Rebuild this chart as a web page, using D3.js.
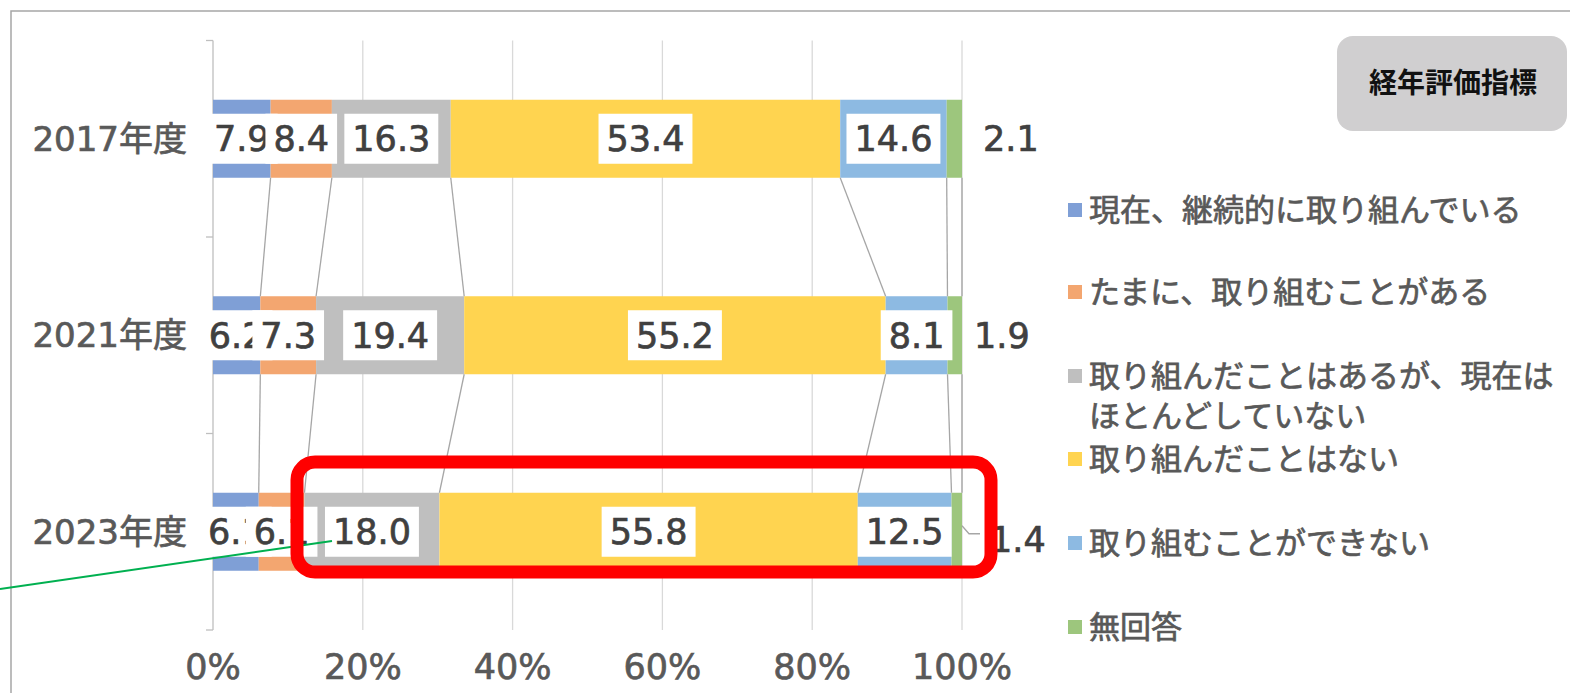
<!doctype html>
<html>
<head>
<meta charset="utf-8">
<script src="https://cdn.jsdelivr.net/npm/d3@7"></script>
<style>
  body { margin: 0; background: #fff; }
  svg text { font-family: "DejaVu Sans", "Noto Sans CJK JP", sans-serif; }
  .cjk { font-family: "Noto Sans CJK JP", sans-serif; }
  .med { stroke-width: 0.7px; }
</style>
</head>
<body>
<svg width="1570" height="693"></svg>
<script>
// data (percent, rows do not sum exactly to 100)
var years = ["2017年度", "2021年度", "2023年度"];
var seriesNames = ["現在、継続的に取り組んでいる", "たまに、取り組むことがある",
  "取り組んだことはあるが、現在は\nほとんどしていない", "取り組んだことはない",
  "取り組むことができない", "無回答"];
var continuing = [7.9, 6.2, 6.1];
var sometimes  = [8.4, 7.3, 6.1];
var stopped    = [16.3, 19.4, 18.0];
var never      = [53.4, 55.2, 55.8];
var cannot     = [14.6, 8.1, 12.5];
var noAnswer   = [2.1, 1.9, 1.4];
var xTicks = [0, 0.2, 0.4, 0.6, 0.8, 1];

var colors = ["#7f9fd6", "#f3a670", "#bfbfbf", "#ffd450", "#8dbae2", "#9dc67d"];
var keys = ["s0", "s1", "s2", "s3", "s4", "s5"];
var cols = [continuing, sometimes, stopped, never, cannot, noAnswer];

var rows = years.map(function(y, i) {
  var r = { year: y };
  keys.forEach(function(k, j) { r[k] = cols[j][i]; });
  return r;
});

var svg = d3.select("svg");

// outer frame
svg.append("rect").attr("x", 11).attr("y", 11).attr("width", 1700).attr("height", 800)
  .attr("fill", "none").attr("stroke", "#a6a6a6").attr("stroke-width", 1.5);

var x = d3.scaleLinear().domain([0, 1]).range([213, 962]);
var y = d3.scaleBand().domain(years).range([40.5, 630]).paddingInner(0.603).paddingOuter(0.3015);

var stack = d3.stack().keys(keys).offset(d3.stackOffsetExpand);
var series = stack(rows);

// gridlines
svg.append("g").selectAll("line").data(xTicks.slice(1)).enter().append("line")
  .attr("x1", function(d) { return x(d); }).attr("x2", function(d) { return x(d); })
  .attr("y1", 40.5).attr("y2", 630)
  .attr("stroke", "#d9d9d9").attr("stroke-width", 1.3);

// y axis with ticks at band edges
var yAxis = svg.append("g");
yAxis.append("line").attr("x1", x(0)).attr("x2", x(0)).attr("y1", 40.5).attr("y2", 630)
  .attr("stroke", "#bfbfbf").attr("stroke-width", 1.3);
var edges = years.map(function(d) { return y(d) - y.step() * 0.3015; });
edges.push(630);
yAxis.selectAll(".tk").data(edges).enter().append("line")
  .attr("x1", x(0) - 7).attr("x2", x(0))
  .attr("y1", function(d) { return d; }).attr("y2", function(d) { return d; })
  .attr("stroke", "#bfbfbf").attr("stroke-width", 1.3);

yAxis.selectAll(".cat").data(years).enter().append("text")
  .attr("class", "med").attr("stroke", "#595959")
  .attr("x", 187).attr("y", function(d) { return y(d) + y.bandwidth() / 2; })
  .attr("dy", "0.36em").attr("text-anchor", "end")
  .attr("font-size", 34).attr("fill", "#595959")
  .text(function(d) { return d; });

// x axis labels
svg.append("g").selectAll("text").data(xTicks).enter().append("text")
  .attr("class", "med").attr("stroke", "#595959")
  .attr("x", function(d) { return x(d); }).attr("y", 666).attr("dy", "0.36em")
  .attr("text-anchor", "middle").attr("font-size", 35).attr("fill", "#595959")
  .text(d3.format(".0%"));

// bars
svg.append("g").selectAll("g").data(series).enter().append("g")
  .attr("fill", function(d, i) { return colors[i]; })
  .selectAll("rect").data(function(d) { return d; }).enter().append("rect")
  .attr("x", function(d) { return x(d[0]); })
  .attr("width", function(d) { return x(d[1]) - x(d[0]); })
  .attr("y", function(d) { return y(d.data.year); })
  .attr("height", y.bandwidth());

// series lines between bars
var links = [];
series.forEach(function(s) {
  for (var i = 0; i < s.length - 1; i++) links.push({ a: s[i], b: s[i + 1] });
});
svg.append("g").selectAll("line").data(links).enter().append("line")
  .attr("x1", function(d) { return x(d.a[1]); })
  .attr("y1", function(d) { return y(d.a.data.year) + y.bandwidth(); })
  .attr("x2", function(d) { return x(d.b[1]); })
  .attr("y2", function(d) { return y(d.b.data.year); })
  .attr("stroke", "#a6a6a6").attr("stroke-width", 1.3);

// data labels with white boxes (first five series)
var lab = svg.append("g");
series.slice(0, 5).forEach(function(s, si) {
  s.forEach(function(d, i) {
    var cx = (x(d[0]) + x(d[1])) / 2, cy = y(d.data.year) + y.bandwidth() / 2;
    var g = lab.append("g");
    var box = g.append("rect").attr("fill", "#fff");
    var t = g.append("text").attr("class", "med").attr("stroke", "#404040")
      .attr("x", cx).attr("y", cy).attr("dy", "0.36em")
      .attr("text-anchor", "middle").attr("font-size", 35).attr("fill", "#404040")
      .text(d3.format(".1f")(cols[si][i]));
    var w = t.node().getComputedTextLength() + 16;
    box.attr("x", cx - w / 2).attr("y", cy - 25).attr("width", w).attr("height", 50);
  });
});

// last series labels sit outside the bar end
var outGap = [21, 12, 28];
series[5].forEach(function(d, i) {
  var cy = y(d.data.year) + y.bandwidth() / 2;
  lab.append("text").attr("class", "med").attr("stroke", "#404040")
    .attr("x", x(1) + outGap[i]).attr("y", cy + (i === 2 ? 8 : 0)).attr("dy", "0.36em")
    .attr("font-size", 35).attr("fill", "#404040")
    .text(d3.format(".1f")(noAnswer[i]));
});
// leader line for the 2023 label
var ly = y(years[2]) + y.bandwidth() / 2;
lab.append("polyline")
  .attr("points", [[x(1), ly - 6], [x(1) + 7, ly + 2], [x(1) + 18, ly + 2]].join(" "))
  .attr("fill", "none").attr("stroke", "#a6a6a6").attr("stroke-width", 1.3);

// green annotation line
svg.append("line").attr("x1", 0).attr("y1", 589).attr("x2", 332).attr("y2", 541)
  .attr("stroke", "#00b050").attr("stroke-width", 2);

// red highlight box around 2023
svg.append("rect").attr("x", 297).attr("y", 462).attr("width", 694).attr("height", 110)
  .attr("rx", 18).attr("fill", "none").attr("stroke", "#ff0000").attr("stroke-width", 13);

// legend
var leg = svg.append("g");
var legY = [210, 292, 376, 459, 543, 627];
seriesNames.forEach(function(name, i) {
  leg.append("rect").attr("x", 1068).attr("y", legY[i] - 7).attr("width", 14).attr("height", 14)
    .attr("fill", colors[i]);
  name.split("\n").forEach(function(line, k) {
    leg.append("text").attr("class", "cjk med").attr("stroke", "#595959")
      .attr("x", 1089).attr("y", legY[i] + k * 40)
      .attr("dy", "0.36em").attr("font-size", 31).attr("fill", "#595959").text(line);
  });
});

// title badge
svg.append("rect").attr("x", 1337).attr("y", 36).attr("width", 230).attr("height", 95)
  .attr("rx", 16).attr("fill", "#d0cfd0");
svg.append("text").attr("class", "cjk").attr("x", 1453).attr("y", 83).attr("dy", "0.36em")
  .attr("text-anchor", "middle").attr("font-size", 28).attr("font-weight", "bold")
  .attr("fill", "#111").text("経年評価指標");
</script>
</body>
</html>
